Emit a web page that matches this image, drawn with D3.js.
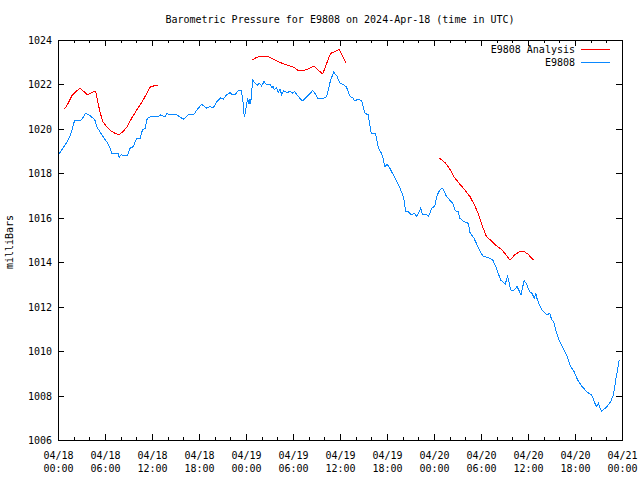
<!DOCTYPE html>
<html>
<head>
<meta charset="utf-8">
<script src="https://cdn.jsdelivr.net/npm/d3@7"></script>
<style>
  html, body { margin: 0; padding: 0; background: #fff; }
  svg { display: block; }
  text { font-family: "DejaVu Sans Mono", "Liberation Mono", monospace; font-size: 10px; fill: #000; }
</style>
</head>
<body>
<svg id="chart" width="640" height="480"></svg>
<script>
// ---- Data (hours after 2024-04-18 00:00 UTC, pressure in mbar) ----
const chartTitle = "Barometric Pressure for E9808 on 2024-Apr-18 (time in UTC)";
const yLabel = "milliBars";
const seriesNames = ["E9808 Analysis", "E9808"];

const stationHours = [0.1,0.9,1.3,1.75,2.1,2.8,3.15,3.5,4.1,4.7,5.0,5.6,6.2,6.6,6.85,7.7,7.8,8.1,8.3,8.85,9.2,9.6,10.05,10.5,10.8,11.1,11.4,11.96,12.4,12.8,13.1,13.66,13.9,14.3,15.15,16.0,16.6,17.3,17.9,18.35,19.0,19.4,19.8,20.3,20.8,21.1,21.5,21.96,22.3,22.6,23.0,23.4,23.6,23.7,23.8,24.0,24.2,24.4,24.5,24.6,24.85,25.15,25.45,25.7,26.0,26.3,26.6,27.1,27.3,27.5,27.6,27.9,28.1,28.35,28.55,28.8,29.2,29.6,30.0,30.2,30.7,31.2,32.0,32.5,32.9,33.2,33.8,34.3,34.5,34.8,35.2,35.6,36.0,36.4,36.8,37.3,37.6,37.8,38.1,38.5,38.8,39.0,39.2,39.6,39.8,40.0,40.55,40.7,40.9,41.3,41.5,41.7,42.0,42.3,43.0,43.66,44.1,44.4,44.7,45.1,45.5,45.8,46.3,46.55,47.0,47.3,47.7,48.1,48.4,48.8,49.1,49.6,50.0,50.4,50.7,51.1,51.3,51.8,52.4,52.6,53.1,53.5,53.9,54.3,54.9,55.5,55.9,56.2,56.5,57.1,57.4,57.8,58.1,58.6,58.9,59.1,59.5,59.8,60.2,60.5,60.8,61.0,61.2,61.45,61.75,62.4,62.8,63.0,63.3,63.6,64.0,64.5,65.0,65.45,65.9,66.3,66.85,67.5,68.1,68.35,68.7,69.0,69.2,69.4,70.0,70.55,70.9,71.2,71.65];
const stationValues = [1018.85,1019.28,1019.5,1019.88,1020.36,1020.36,1020.48,1020.7,1020.6,1020.4,1020.07,1019.73,1019.43,1019.17,1018.9,1018.9,1018.72,1018.85,1018.8,1018.8,1019.13,1019.2,1019.58,1019.58,1019.98,1020.0,1020.48,1020.58,1020.55,1020.55,1020.63,1020.55,1020.7,1020.63,1020.63,1020.43,1020.63,1020.63,1020.93,1021.1,1020.93,1021.0,1020.93,1021.23,1021.4,1021.33,1021.53,1021.63,1021.53,1021.53,1021.72,1021.72,1021.3,1020.78,1020.52,1020.93,1021.38,1021.12,1021.35,1021.12,1022.2,1022.05,1021.97,1022.05,1021.93,1022.13,1022.0,1022.0,1021.87,1021.9,1021.75,1021.87,1021.63,1021.8,1021.53,1021.72,1021.63,1021.68,1021.6,1021.68,1021.45,1021.26,1021.53,1021.72,1021.56,1021.35,1021.35,1021.45,1021.75,1022.2,1022.55,1022.38,1022.05,1022.0,1021.9,1021.45,1021.42,1021.3,1021.3,1021.33,1021.23,1020.93,1020.7,1020.63,1020.18,1019.8,1019.78,1019.5,1019.13,1018.9,1018.68,1018.3,1018.4,1018.27,1017.8,1017.33,1016.95,1016.27,1016.27,1016.13,1016.2,1016.05,1016.43,1016.13,1016.17,1016.05,1016.43,1016.53,1017.02,1017.28,1017.33,1016.95,1016.8,1016.65,1016.32,1016.27,1015.98,1015.83,1015.75,1015.33,1015.08,1014.78,1014.48,1014.25,1014.22,1014.1,1013.8,1013.5,1013.2,1013.02,1013.38,1012.75,1012.7,1012.9,1012.7,1012.53,1013.17,1013.03,1012.68,1012.6,1012.38,1012.58,1012.3,1012.1,1011.85,1011.63,1011.7,1011.43,1011.3,1010.88,1010.46,1010.13,1009.75,1009.3,1009.07,1008.73,1008.43,1008.17,1008.03,1007.85,1007.5,1007.65,1007.45,1007.3,1007.47,1007.73,1008.03,1008.7,1009.6];

// null values mark gaps between analysis runs
const analysisHours = [0.8,1.3,1.75,2.3,2.8,3.3,3.75,4.1,4.8,5.3,5.7,6.2,6.7,7.3,7.8,8.3,8.85,9.4,10.05,10.7,11.3,11.8,12.2,12.8,
  18.0,
  24.8,25.35,25.9,26.6,27.3,27.9,28.8,29.6,30.1,30.7,31.2,31.8,32.7,33.2,33.8,34.3,34.8,35.3,35.9,36.35,36.8,
  42.0,
  48.7,49.0,49.5,49.95,50.55,51.2,51.95,52.6,53.1,53.65,54.2,54.7,55.35,56.0,56.6,57.2,57.7,58.3,58.85,59.45,60.0,60.7];
const analysisValues = [1020.88,1021.15,1021.48,1021.68,1021.83,1021.68,1021.53,1021.6,1021.7,1020.85,1020.33,1020.1,1019.92,1019.8,1019.73,1019.88,1020.1,1020.48,1020.85,1021.2,1021.57,1021.9,1021.93,1021.97,
  null,
  1023.1,1023.22,1023.28,1023.28,1023.17,1023.07,1022.92,1022.83,1022.77,1022.62,1022.62,1022.68,1022.83,1022.65,1022.47,1022.95,1023.4,1023.47,1023.58,1023.25,1022.95,
  null,
  1018.68,1018.6,1018.45,1018.23,1017.85,1017.55,1017.25,1016.95,1016.62,1016.2,1015.6,1015.15,1014.96,1014.73,1014.58,1014.33,1014.1,1014.33,1014.46,1014.5,1014.36,1014.1];

const yTickValues = [1006,1008,1010,1012,1014,1016,1018,1020,1022,1024];
const startTime = Date.UTC(2024, 3, 18, 0, 0);
const endTime = Date.UTC(2024, 3, 21, 0, 0);

// ---- Layout ----
const L = 58, R = 622, T = 40, B = 440;
const svg = d3.select("#chart");
svg.append("rect").attr("width", 640).attr("height", 480).attr("fill", "#fff");

const x = d3.scaleUtc().domain([new Date(startTime), new Date(endTime)]).range([L, R]);
const y = d3.scaleLinear().domain([1006, 1024]).range([B, T]);
const toDate = h => new Date(startTime + h * 3600e3);

const majorX = d3.utcHour.every(6).range(new Date(startTime), new Date(endTime + 1));
const minorX = d3.utcHour.every(2).range(new Date(startTime), new Date(endTime + 1))
  .filter(d => d.getUTCHours() % 6 !== 0);

function styleAxis(g) {
  g.select(".domain").remove();
  g.selectAll("line").attr("stroke", "#000").attr("shape-rendering", "crispEdges");
  g.selectAll("text").style("font-family", '"DejaVu Sans Mono", monospace').style("font-size", "10px");
}

// bottom major with labels
const gxb = svg.append("g").attr("transform", `translate(0,${B})`)
  .call(d3.axisBottom(x).tickValues(majorX).tickSize(-6).tickPadding(10).tickFormat(d3.utcFormat("%m/%d")));
styleAxis(gxb);
gxb.selectAll("text").each(function(d) {
  const t = d3.select(this);
  t.text(null).attr("dy", null).attr("y", 0);
  t.append("tspan").attr("x", 0).attr("y", 19).text(d3.utcFormat("%m/%d")(d));
  t.append("tspan").attr("x", 0).attr("y", 32).text(d3.utcFormat("%H:%M")(d));
});
styleAxis(svg.append("g").attr("transform", `translate(0,${B})`)
  .call(d3.axisBottom(x).tickValues(minorX).tickSize(-3).tickFormat("")));
// top mirrored ticks
styleAxis(svg.append("g").attr("transform", `translate(0,${T})`)
  .call(d3.axisTop(x).tickValues(majorX).tickSize(-6).tickFormat("")));
styleAxis(svg.append("g").attr("transform", `translate(0,${T})`)
  .call(d3.axisTop(x).tickValues(minorX).tickSize(-3).tickFormat("")));

// y axes
const gyl = svg.append("g").attr("transform", `translate(${L},0)`)
  .call(d3.axisLeft(y).tickValues(yTickValues).tickSize(-6).tickPadding(6).tickFormat(d3.format("d")));
styleAxis(gyl);
gyl.selectAll("text").attr("dy", "0.35em");
styleAxis(svg.append("g").attr("transform", `translate(${R},0)`)
  .call(d3.axisRight(y).tickValues(yTickValues).tickSize(-6).tickFormat("")));

// frame
svg.append("rect").attr("x", L).attr("y", T).attr("width", R - L).attr("height", B - T)
  .attr("fill", "none").attr("stroke", "#000").attr("shape-rendering", "crispEdges");

// series
const stationData = stationHours.map((h, i) => ({ t: toDate(h), v: stationValues[i] }));
const analysisData = analysisHours.map((h, i) => ({ t: toDate(h), v: analysisValues[i] }));
const line = d3.line().defined(d => d.v != null).x(d => x(d.t)).y(d => y(d.v));

const colors = ["#ff0000", "#0a88ff"];
svg.append("path").datum(analysisData).attr("d", line)
  .attr("fill", "none").attr("stroke", colors[0]).attr("stroke-width", 1).attr("shape-rendering", "crispEdges");
svg.append("path").datum(stationData).attr("d", line)
  .attr("fill", "none").attr("stroke", colors[1]).attr("stroke-width", 1).attr("shape-rendering", "crispEdges");

// title & labels
svg.append("text").attr("x", (L + R) / 2).attr("y", 23).attr("text-anchor", "middle").text(chartTitle);
svg.append("text").attr("transform", "translate(13,242) rotate(-90)").attr("text-anchor", "middle").text(yLabel);

// legend
seriesNames.forEach((name, i) => {
  const ly = 49 + i * 13;
  svg.append("text").attr("x", 575).attr("y", ly + 4).attr("text-anchor", "end").text(name);
  svg.append("line").attr("x1", 581).attr("x2", 610).attr("y1", ly).attr("y2", ly)
    .attr("stroke", colors[i]).attr("stroke-width", 1).attr("shape-rendering", "crispEdges");
});
</script>
</body>
</html>
